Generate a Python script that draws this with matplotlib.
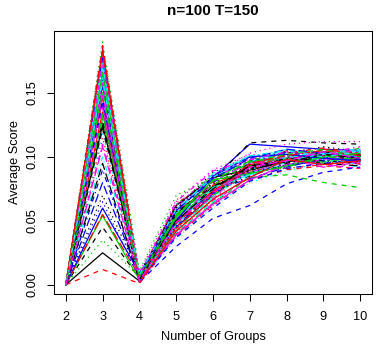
import matplotlib
matplotlib.use("Agg")
import matplotlib.pyplot as plt

title = "n=100 T=150"
xlabel = "Number of Groups"
ylabel = "Average Score"
groups = [2, 3, 4, 5, 6, 7, 8, 9, 10]
yticks = [0.00, 0.05, 0.10, 0.15]
ytick_labels = ["0.00", "0.05", "0.10", "0.15"]

# Average score per replicate (rows) at each number of groups (columns), in thousandths
scores_milli = [
    [0, 25, 3, 45, 70, 90, 97, 99, 98],
    [0, 12, 1, 38, 62, 82, 90, 93, 91],
    [0, 35, 6, 50, 75, 93, 99, 101, 100],
    [0, 185, 4, 52, 80, 97, 99, 104, 101],
    [0, 172, 6, 47, 72, 95, 101, 98, 103],
    [0, 181, 3, 58, 76, 88, 96, 101, 94],
    [0, 45, 5, 48, 72, 91, 98, 100, 99],
    [0, 160, 8, 41, 67, 91, 104, 102, 99],
    [0, 150, 5, 63, 85, 94, 97, 95, 99],
    [0, 178, 2, 45, 74, 83, 92, 99, 105],
    [0, 165, 7, 55, 70, 96, 106, 101, 96],
    [0, 140, 4, 38, 64, 86, 94, 103, 100],
    [0, 182, 9, 60, 88, 100, 103, 108, 104],
    [0, 155, 3, 49, 79, 90, 91, 94, 97],
    [0, 130, 6, 54, 82, 99, 98, 100, 107],
    [0, 156, 5, 58, 84, 110, 108, 106, 105],
    [0, 175, 5, 43, 69, 93, 102, 97, 92],
    [0, 120, 10, 66, 90, 102, 100, 104, 98],
    [0, 168, 4, 50, 73, 85, 95, 102, 100],
    [0, 145, 7, 57, 78, 92, 105, 99, 95],
    [0, 54, 4, 52, 76, 93, 99, 101, 100],
    [0, 142, 2, 30, 52, 62, 79, 88, 92],
    [0, 186, 2, 36, 62, 80, 89, 96, 99],
    [0, 110, 8, 61, 83, 98, 99, 103, 108],
    [0, 162, 5, 48, 77, 89, 100, 95, 93],
    [0, 135, 3, 44, 71, 94, 97, 106, 102],
    [0, 134, 4, 40, 64, 84, 86, 80, 76],
    [0, 176, 6, 59, 86, 97, 93, 97, 100],
    [0, 100, 9, 53, 75, 87, 103, 100, 106],
    [0, 158, 4, 46, 81, 95, 98, 92, 96],
    [0, 125, 7, 62, 84, 90, 96, 104, 101],
    [0, 180, 3, 40, 66, 84, 99, 101, 97],
    [0, 190, 11, 70, 84, 96, 101, 102, 101],
    [0, 90, 5, 51, 72, 96, 104, 99, 103],
    [0, 170, 8, 56, 87, 101, 99, 105, 100],
    [0, 148, 2, 39, 63, 82, 94, 98, 104],
    [0, 122, 6, 55, 82, 111, 113, 111, 110],
    [0, 115, 6, 64, 80, 93, 101, 96, 94],
    [0, 183, 4, 42, 70, 88, 92, 100, 98],
    [0, 80, 7, 58, 83, 99, 106, 103, 99],
    [0, 164, 5, 47, 76, 86, 97, 102, 105],
    [0, 138, 3, 52, 68, 92, 100, 94, 91],
    [0, 70, 8, 60, 79, 94, 95, 101, 102],
    [0, 187, 6, 45, 74, 89, 103, 107, 103],
    [0, 152, 4, 55, 81, 97, 98, 96, 100],
    [0, 60, 9, 50, 85, 100, 102, 99, 97],
    [0, 174, 5, 41, 65, 85, 96, 103, 106],
    [0, 178, 8, 62, 86, 103, 110, 112, 112],
    [0, 128, 2, 57, 77, 91, 99, 97, 95],
    [0, 55, 7, 48, 73, 95, 101, 105, 101],
    [0, 166, 3, 53, 82, 87, 93, 100, 103],
    [0, 144, 3, 37, 60, 81, 91, 95, 98],
    [0, 118, 5, 44, 68, 90, 100, 98, 94],
    [0, 173, 7, 65, 89, 98, 104, 101, 106],
    [0, 95, 4, 50, 75, 93, 96, 102, 99],
    [0, 184, 2, 42, 67, 84, 98, 94, 97],
    [0, 132, 6, 54, 78, 96, 102, 106, 100],
    [0, 65, 5, 46, 71, 88, 94, 97, 101],
    [0, 159, 8, 59, 84, 101, 105, 100, 104],
    [0, 108, 3, 49, 72, 92, 97, 104, 99],
]

colors = ["black", "#FF0000", "#00CD00", "#0000FF", "#00FFFF", "#FF00FF"]
linestyles = ["-", (0, (4, 4)), (0, (1, 3)), (0, (1, 3, 4, 3)), (0, (7, 3))]

plt.rcParams["font.family"] = ["Liberation Sans", "DejaVu Sans"]
FS = 9.2

fig = plt.figure(figsize=(3.88, 3.49), dpi=100)
ax = fig.add_axes([54 / 388, 55 / 349, 318 / 388, 263 / 349])

for i, row in enumerate(scores_milli):
    vals = [v / 1000 for v in row]
    ax.plot(groups, vals, color=colors[i % 6], linestyle=linestyles[i % 5],
            linewidth=0.9)

ax.set_xlim(1.68, 10.32)
ax.set_ylim(-0.0072, 0.1985)
ax.set_xticks(groups)
ax.set_xticklabels([str(g) for g in groups], fontsize=FS)
ax.set_yticks(yticks)
ax.set_yticklabels(ytick_labels, fontsize=FS, rotation=90, va="center")
ax.tick_params(direction="out", length=5, width=0.75)
ax.tick_params(axis="x", pad=7.5)
ax.tick_params(axis="y", pad=6.5)
for s in ax.spines.values():
    s.set_linewidth(0.75)

fig.text(213 / 388, 1 - 337 / 349, xlabel, ha="center", va="center", fontsize=FS)
fig.text(15 / 388, 1 - 162 / 349, ylabel, ha="center", va="center",
         fontsize=FS, rotation=90)
fig.text(213 / 388, 1 - 11 / 349, title, ha="center", va="center",
         fontsize=11, fontweight="bold")

fig.savefig("out.png", dpi=100)
